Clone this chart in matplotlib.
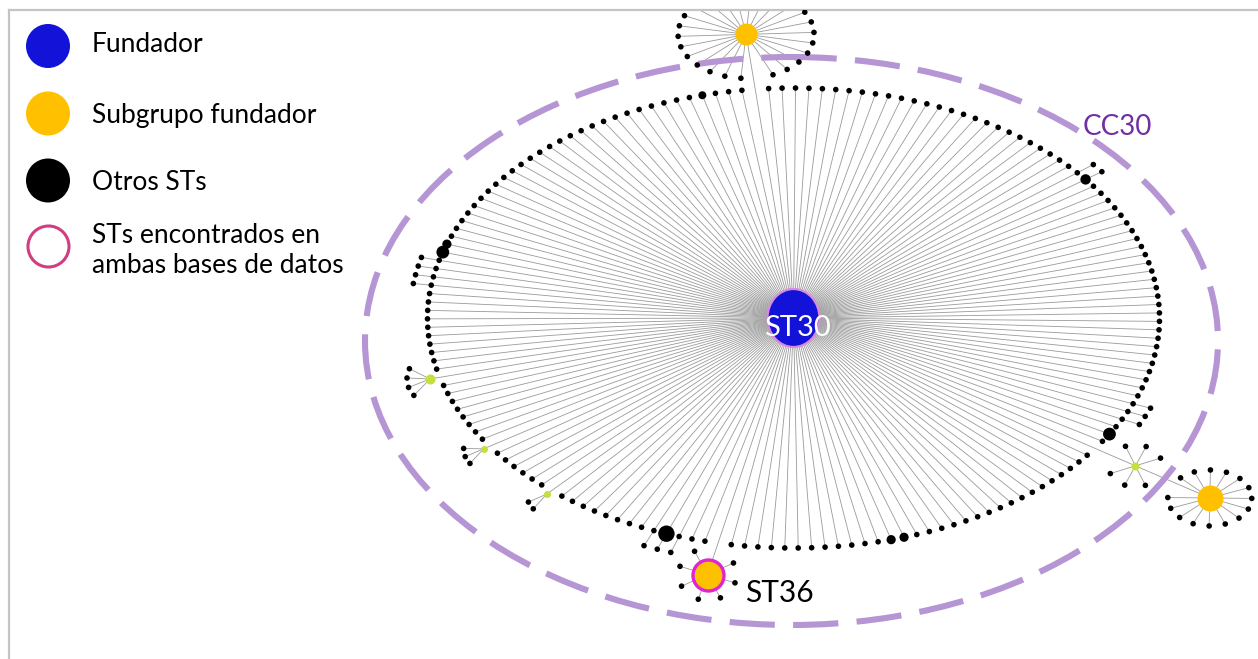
import numpy as np
import matplotlib.pyplot as plt
from matplotlib.collections import LineCollection
from matplotlib.patches import Ellipse

plt.rcParams['font.family'] = ['Lato', 'DejaVu Sans']

# ---- data: goeBURST network of clonal complex CC30 ----
founder_label = 'ST30'
cc_label = 'CC30'
n_ring = 171                  # single-locus variants arranged around the founder

# hubs sitting in a ring slot
hub_slots = [0, 62, 94, 108, 115, 124]
hub_kinds = ['subgroup', 'minor', 'subgroup', 'minor', 'minor', 'minor']
hub_leaves = [25, 6, 7, 2, 3, 4]
hub_labels = ['', '', 'ST36', '', '', '']
hub_shared = [False, False, True, False, False, False]

# subgroup founder hanging from the minor hub in slot 62
child_parent_slot = 62
child_leaves = 15

# ring nodes with one extra variant hanging outwards
pendant_slots = [27, 28, 56, 57, 58, 97, 98, 99, 135, 136, 137, 138]

# ring nodes with more isolates (drawn bigger)
big_slots = [28, 60, 80, 81, 98, 139, 140, 167]
big_isolates = [4, 6, 3, 3, 9, 6, 3, 2]

legend_labels = ['Fundador', 'Subgrupo fundador', 'Otros STs',
                 'STs encontrados en\nambas bases de datos']

# ---- colours ----
BLUE = '#1212d8'
YELLOW = '#ffc000'
GREEN = '#c6df3a'
EDGE = '#9a9a9a'
PURPLE = '#b595d3'
CC_PURPLE = '#7030a0'
SHARED = '#e024d4'

W, H = 1258, 659
fig = plt.figure(figsize=(W / 100, H / 100), dpi=100)
ax = fig.add_axes([9 / W, 0, (W - 9) / W, (H - 10) / H])
ax.set_xlim(9, W)
ax.set_ylim(H, 10)
ax.set_xticks([])
ax.set_yticks([])
for side in ['right', 'bottom']:
    ax.spines[side].set_visible(False)
for side in ['top', 'left']:
    ax.spines[side].set_color('#c4c4c4')
    ax.spines[side].set_linewidth(1.6)

# ---- layout ----
cx, cy = 793.5, 318.0
ra, rb = 366.0, 230.0
step = 360.0 / n_ring
theta = np.deg2rad(-96.0 + step * np.arange(n_ring))
ring_x = cx + ra * np.cos(theta)
ring_y = cy + rb * np.sin(theta)

NODE_R = 2.8
hub_dist = [1.24, 1.134, 1.14, 1.02, 1.02, 1.028]
hub_r = [11, 4, 17, 3.5, 3.5, 5]
hub_leaf_r = [(68, 44), (27, 21), (29, 26), (20, 20), (20, 20), (23, 23)]

segs = []
dots_x, dots_y, dots_r, dots_c = [], [], [], []


def add_dot(x, y, r, c='black'):
    dots_x.append(x)
    dots_y.append(y)
    dots_r.append(r)
    dots_c.append(c)


def around(x0, y0, parent_ang, n_slots, rx, ry, skip=()):
    pts = []
    for j in range(1, n_slots):
        if j in skip:
            continue
        a = parent_ang + np.deg2rad(360.0 / n_slots * j)
        pts.append((x0 + rx * np.cos(a), y0 + ry * np.sin(a)))
    return pts


big_r = {s: NODE_R + 0.6 * n for s, n in zip(big_slots, big_isolates)}

for k in range(n_ring):
    if k in hub_slots:
        continue
    x, y = ring_x[k], ring_y[k]
    segs.append([(cx, cy), (x, y)])
    add_dot(x, y, big_r.get(k, NODE_R))
    if k in pendant_slots:
        d = np.hypot(x - cx, y - cy)
        px, py = x + 18 * (x - cx) / d, y + 18 * (y - cy) / d
        segs.append([(x, y), (px, py)])
        add_dot(px, py, NODE_R)

hubs = []
for i, k in enumerate(hub_slots):
    hx = cx + hub_dist[i] * ra * np.cos(theta[k])
    hy = cy + hub_dist[i] * rb * np.sin(theta[k])
    segs.append([(cx, cy), (hx, hy)])
    parent_ang = np.arctan2(cy - hy, cx - hx)
    rx, ry = hub_leaf_r[i]
    if hub_kinds[i] == 'minor' and k != child_parent_slot:
        # small fan pointing outwards
        out = np.arctan2(hy - cy, hx - cx)
        n = hub_leaves[i]
        offs = (np.arange(n) - (n - 1) / 2) * np.deg2rad(24)
        leaves = [(hx + rx * np.cos(out + o), hy + ry * np.sin(out + o)) for o in offs]
    elif k == child_parent_slot:
        slots = hub_leaves[i] + 2
        leaves = around(hx, hy, parent_ang, slots, rx, ry, skip=(slots // 2,))
        # subgroup founder opposite the link to ST30
        ch_ang = parent_ang + np.pi
        chx, chy = hx + 81 * np.cos(ch_ang), hy + 81 * np.sin(ch_ang)
        segs.append([(hx, hy), (chx, chy)])
        ch_leaves = around(chx, chy, ch_ang + np.pi, child_leaves + 1, 42, 28)
        for lx, ly in ch_leaves:
            segs.append([(chx, chy), (lx, ly)])
            add_dot(lx, ly, NODE_R)
        hubs.append((chx, chy, 13, YELLOW, False))
    else:
        leaves = around(hx, hy, parent_ang, hub_leaves[i] + 1, rx, ry)
    for lx, ly in leaves:
        segs.append([(hx, hy), (lx, ly)])
        add_dot(lx, ly, NODE_R)
    col = YELLOW if hub_kinds[i] == 'subgroup' else GREEN
    hubs.append((hx, hy, hub_r[i], col, hub_shared[i]))
    if hub_labels[i]:
        ax.text(745, 602, hub_labels[i], fontsize=21.5, color='black', va='baseline', zorder=6)

ax.add_collection(LineCollection(segs, colors=EDGE, linewidths=0.6, zorder=1))

# clonal complex boundary
ax.add_patch(Ellipse((791.5, 341), 853, 568, fill=False, edgecolor=PURPLE,
                     linewidth=4.4, linestyle=(0, (7.4, 3.0)), zorder=2))

dots_r = np.array(dots_r)
ax.scatter(dots_x, dots_y, s=(2 * dots_r * 0.72) ** 2, c=dots_c, linewidths=0, zorder=3)

for hx, hy, r, col, shared in hubs:
    if shared:
        ax.scatter([hx], [hy], s=(2 * (r - 1.5) * 0.72) ** 2, c=col, edgecolors=SHARED,
                   linewidths=2.4, zorder=4)
    else:
        ax.scatter([hx], [hy], s=(2 * r * 0.72) ** 2, c=col, linewidths=0, zorder=4)

# founder
ax.add_patch(Ellipse((cx, cy), 52, 58, facecolor=BLUE, edgecolor='#d98ae0',
                     linewidth=1.6, zorder=5))
ax.text(797, 336, founder_label, fontsize=21, color='white', ha='center',
        va='baseline', zorder=6)
ax.text(1083, 135, cc_label, fontsize=20, color=CC_PURPLE, va='baseline', zorder=6)

# ---- legend ----
leg_y = [46, 113.5, 180.5, 246.5]
leg_base = [52, 123, 190, 243]
ax.scatter([48, 48, 48], leg_y[:3], s=(2 * 22 * 0.72) ** 2,
           c=[BLUE, YELLOW, 'black'], linewidths=0, zorder=4)
ax.scatter([48], [leg_y[3]], s=(2 * 20.5 * 0.72) ** 2, facecolors='white',
           edgecolors='#d23c82', linewidths=2.2, zorder=4)
for lab, yb in zip(legend_labels, leg_base):
    ax.text(92, yb, lab.split('\n')[0], fontsize=19, va='baseline', color='black')
ax.text(92, 273, legend_labels[3].split('\n')[1], fontsize=19, va='baseline', color='black')

fig.savefig('out.png', dpi=100)
